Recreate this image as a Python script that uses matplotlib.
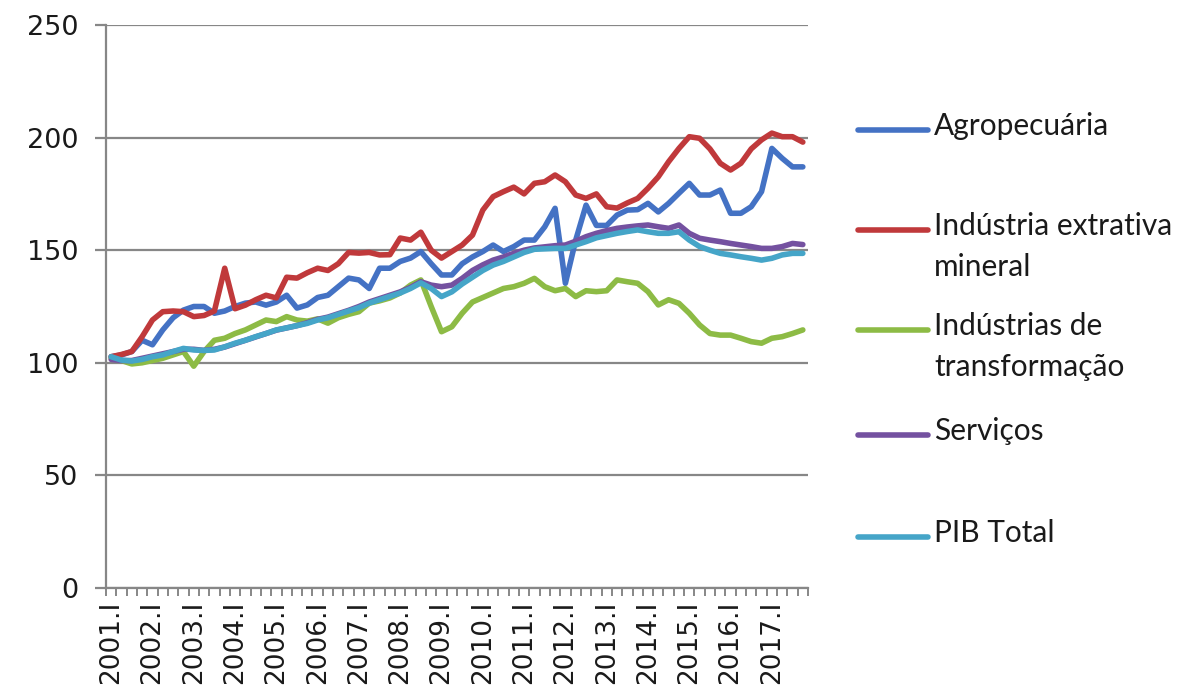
import matplotlib
matplotlib.use("Agg")
import matplotlib.pyplot as plt
from matplotlib.lines import Line2D

years = list(range(2001, 2018))
quarters = ["I", "II", "III", "IV"]
categories = [f"{y}.{q}" for y in years for q in quarters]

agro = [102.7, 103.5, 105, 110, 108, 114.6, 120, 123.4, 125, 125, 122, 123,
        125, 126.5, 127, 125.6, 127, 130, 124.3, 125.7, 129, 130, 133.8, 137.6,
        136.8, 133, 142, 142, 145, 146.5, 149.4, 144, 139, 139, 144, 147,
        149.4, 152.3, 149.4, 151.6, 154.5, 154.5, 160.4, 168.6, 135.3, 154.5, 170, 161,
        161, 165.6, 167.8, 168, 170.8, 167, 170.8, 175.3, 179.7, 174.5, 174.5, 176.7,
        166.4, 166.4, 169.3, 176, 195.2, 190.8, 187, 187]

extrativa = [102.7, 103.7, 105, 111.6, 119, 122.7, 123, 122.7, 120.5, 121, 123, 142,
             124, 125.6, 128, 130, 128.8, 138, 137.6, 140, 142, 141, 144, 149,
             148.7, 149, 147.9, 148, 155.4, 154.5, 158, 150, 146.5, 149.4, 152.3, 156.7,
             167.8, 173.8, 176, 178, 175, 179.7, 180.4, 183.4, 180.4, 174.5, 173, 175,
             169.3, 168.7, 171, 173, 177.5, 182.6, 189.3, 195.2, 200.4, 199.7, 195, 188.6,
             185.6, 188.6, 195, 199, 202, 200.4, 200.4, 198]

transformacao = [102, 101, 99.5, 100, 101, 102, 103.5, 105, 98.5, 105, 110, 110.9,
                 113, 114.6, 116.8, 119, 118.3, 120.5, 119, 118.5, 119.5, 117.6, 120, 121.5,
                 122.7, 126.5, 127.5, 128.8, 131, 134.5, 136.8, 125, 113.8, 116, 122, 127,
                 129, 131, 133, 133.8, 135.3, 137.5, 133.8, 132, 133, 129.4, 132, 131.6,
                 132, 136.8, 136, 135.3, 131.6, 125.7, 128, 126.4, 122, 116.8, 113, 112.3,
                 112.3, 110.9, 109.4, 108.7, 110.9, 111.6, 113, 114.6]

servicos = [101.5, 101, 101, 102, 103, 104, 105, 106, 106, 105.5, 106, 107,
            108.5, 110, 111.5, 113, 114.5, 115.5, 116.5, 117.8, 119.3, 120.3, 121.8, 123.3,
            125, 127, 128.5, 130, 131.5, 133.5, 136, 134.5, 133.8, 134.5, 137.5, 141,
            143.5, 145.6, 147, 148.6, 150, 151, 151.5, 152, 152.3, 154, 156, 157.5,
            158.7, 159.7, 160.3, 160.8, 161.2, 160.4, 159.7, 161.2, 157.5, 155.3, 154.5, 153.8,
            153, 152.3, 151.6, 150.8, 150.8, 151.6, 153, 152.5]

pib = [102.7, 101.2, 100.8, 101.5, 102.7, 103.5, 105, 106.4, 105.7, 105.5, 105.7, 107.1,
       108.7, 110, 111.6, 113, 114.6, 115.5, 116.5, 117.5, 119, 120, 121.5, 123,
       124.5, 126.5, 128, 129.5, 131, 133, 135.5, 133, 129.4, 131.5, 135, 138,
       141, 143.4, 145, 147, 149, 150.4, 150.6, 150.8, 150.8, 152.3, 153.8, 155.5,
       156.5, 157.5, 158.3, 159, 158.2, 157.5, 157.5, 158.2, 154.5, 151.6, 150, 148.6,
       147.9, 147.1, 146.4, 145.6, 146.4, 147.9, 148.6, 148.6]

series = [
    ("Agropecuária", agro, "#4472C4"),
    ("Indústria extrativa\nmineral", extrativa, "#C0393B"),
    ("Indústrias de\ntransformação", transformacao, "#8DBB45"),
    ("Serviços", servicos, "#7451A0"),
    ("PIB Total", pib, "#45A5C8"),
]

grid_col = "#878787"
text_col = "#1a1a1a"

fig = plt.figure(figsize=(12.02, 6.92), dpi=100)
ax = fig.add_axes([106 / 1202, 1 - 588 / 692, (808 - 106) / 1202, (588 - 25) / 692])

x = list(range(len(categories)))
for name, vals, col in series:
    ax.plot(x, vals, color=col, lw=4.0, solid_joinstyle="round", solid_capstyle="round")

ax.set_xlim(-0.5, len(categories) - 0.5)
ax.set_ylim(0, 250)
ax.set_yticks([0, 50, 100, 150, 200, 250])
ax.yaxis.grid(True, color=grid_col, lw=1.6)
ax.set_axisbelow(True)

for s in ["top", "right"]:
    ax.spines[s].set_visible(False)
for s in ["left", "bottom"]:
    ax.spines[s].set_color(grid_col)
    ax.spines[s].set_linewidth(1.6)

ax.tick_params(axis="y", length=8, width=1.6, color=grid_col, pad=12,
               labelsize=19.5, labelcolor=text_col)

ax.set_xticks(x[::4])
ax.set_xticklabels(categories[::4], rotation=90, va="top", ha="center")
ax.set_xticks([i - 0.5 for i in range(len(categories) + 1)], minor=True)
ax.tick_params(axis="x", which="major", length=0, pad=9, labelsize=19,
               labelcolor=text_col)
ax.tick_params(axis="x", which="minor", length=6, width=1.4, color=grid_col)

# legend drawn by hand so the line sits on the first text line
leg_y = [130, 230, 330, 435, 537]
for (name, vals, col), yp in zip(series, leg_y):
    fy = 1 - yp / 692
    fig.add_artist(Line2D([858 / 1202, 928 / 1202], [fy, fy], color=col, lw=4.0,
                          solid_capstyle="round", transform=fig.transFigure))
    fig.text(934 / 1202, 1 - (yp - 18) / 692, name, fontsize=21.5, family="Lato",
             color=text_col, va="top", ha="left", linespacing=1.55)

fig.savefig("out.png", dpi=100)
